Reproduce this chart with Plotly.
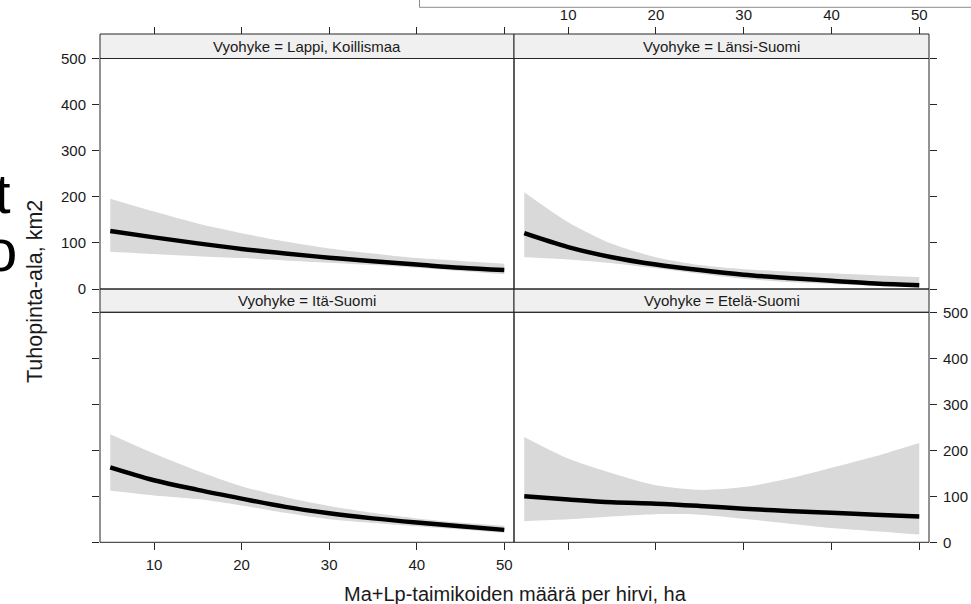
import plotly.graph_objects as go

# ---------------- data ----------------
x_vals = [5, 10, 15, 20, 25, 30, 35, 40, 45, 50]

panels = ["Lappi, Koillismaa", "Länsi-Suomi", "Itä-Suomi", "Etelä-Suomi"]

lappi_fit = [126, 112, 99, 87, 77, 68, 60, 53, 46, 41]
lappi_upper = [196, 168, 142, 121, 103, 88, 77, 67, 61, 55]
lappi_lower = [81, 76, 71, 67, 62, 57, 52, 46, 39, 32]

lansi_fit = [121, 91, 69, 53, 41, 31, 24, 18, 12, 8]
lansi_upper = [210, 145, 98, 69, 52, 43, 38, 34, 30, 26]
lansi_lower = [69, 64, 56, 45, 33, 22, 15, 11, 7, 4]

ita_fit = [163, 135, 114, 95, 77, 63, 52, 43, 35, 27]
ita_upper = [235, 193, 155, 122, 98, 79, 64, 52, 43, 36]
ita_lower = [112, 102, 94, 80, 64, 50, 42, 35, 28, 21]

etela_fit = [100, 93, 87, 84, 79, 73, 68, 64, 60, 56]
etela_upper = [229, 182, 150, 124, 114, 120, 138, 162, 187, 216]
etela_lower = [46, 50, 56, 61, 60, 51, 41, 31, 24, 17]

x_ticks = [10, 20, 30, 40, 50]
y_ticks = [0, 100, 200, 300, 400, 500]

x_title = "Ma+Lp-taimikoiden määrä per hirvi, ha"
y_title = "Tuhopinta-ala, km2"
strip_prefix = "Vyohyke = "

# ---------------- layout geometry (pixels) ----------------
W, H = 971, 604
XL0, XMID, XR1 = 100, 514, 929
TOP_STRIP0, TOP_PLOT0, TOP_PLOT1 = 34, 58.5, 289
BOT_PLOT0, BOT_PLOT1 = 312.3, 542.3

def px(v):
    return v / W

def py(v):
    return 1 - v / H

FONT = "Liberation Sans, Arial, sans-serif"
FRAME = "#262626"
BAND = "#D9D9D9"
STRIP_BG = "#F0F0F0"
TXT = "#1a1a1a"

fig = go.Figure()

series = [
    (lappi_fit, lappi_upper, lappi_lower),
    (lansi_fit, lansi_upper, lansi_lower),
    (ita_fit, ita_upper, ita_lower),
    (etela_fit, etela_upper, etela_lower),
]

for i, (fit, up, lo) in enumerate(series):
    xa = "x" if i == 0 else f"x{i+1}"
    ya = "y" if i == 0 else f"y{i+1}"
    fig.add_trace(go.Scatter(x=x_vals, y=lo, mode="lines", line=dict(width=0, shape="spline", smoothing=0.8),
                             xaxis=xa, yaxis=ya, showlegend=False, hoverinfo="skip"))
    fig.add_trace(go.Scatter(x=x_vals, y=up, mode="lines", fill="tonexty", fillcolor=BAND,
                             line=dict(width=0, shape="spline", smoothing=0.8),
                             xaxis=xa, yaxis=ya, showlegend=False, hoverinfo="skip"))
    fig.add_trace(go.Scatter(x=x_vals, y=fit, mode="lines",
                             line=dict(color="black", width=4.5, shape="spline", smoothing=1.0),
                             xaxis=xa, yaxis=ya, showlegend=False))

# empty traces so that the top tick axes are drawn
fig.add_trace(go.Scatter(x=[None], y=[None], xaxis="x5", yaxis="y", showlegend=False, hoverinfo="skip"))
fig.add_trace(go.Scatter(x=[None], y=[None], xaxis="x6", yaxis="y2", showlegend=False, hoverinfo="skip"))

XRANGE = [3.83, 51.11]
YRANGE = [0, 500]
dom_L = [px(XL0), px(XMID)]
dom_R = [px(XMID), px(XR1)]
dom_T = [py(TOP_PLOT1), py(TOP_PLOT0)]
dom_B = [py(BOT_PLOT1), py(BOT_PLOT0)]

tickfont = dict(family=FONT, size=15, color=TXT)

def xax(domain, anchor, ticks, labels, **kw):
    d = dict(domain=domain, anchor=anchor, range=XRANGE, tickvals=x_ticks,
             ticks="outside" if ticks else "", ticklen=7, tickcolor=FRAME, tickwidth=1,
             showticklabels=labels, tickfont=tickfont, showgrid=False, zeroline=False,
             showline=False, fixedrange=True, automargin=False)
    d.update(kw)
    return d

def yax(domain, anchor, side, labels):
    return dict(domain=domain, anchor=anchor, side=side, range=YRANGE, tickvals=y_ticks,
                ticks="outside", ticklen=7, tickcolor=FRAME, tickwidth=1,
                showticklabels=labels, tickfont=tickfont, showgrid=False, zeroline=False,
                showline=False, fixedrange=True, ticklabelstandoff=3, automargin=False)

fig.update_layout(
    width=W, height=H,
    margin=dict(l=0, r=0, t=0, b=0, pad=0, autoexpand=False),
    paper_bgcolor="white", plot_bgcolor="white",
    font=dict(family=FONT, color=TXT),
    xaxis=xax(dom_L, "y", False, False),
    yaxis=yax(dom_T, "x", "left", True),
    xaxis2=xax(dom_R, "y2", False, False),
    yaxis2=yax(dom_T, "x2", "right", False),
    xaxis3=xax(dom_L, "y3", True, True, ticklabelstandoff=2),
    yaxis3=yax(dom_B, "x3", "left", False),
    xaxis4=xax(dom_R, "y4", True, False),
    yaxis4=yax(dom_B, "x4", "right", True),
    xaxis5=xax(dom_L, "free", True, False, overlaying="x", side="top", position=py(TOP_STRIP0)),
    xaxis6=xax(dom_R, "free", True, True, overlaying="x2", side="top", position=py(TOP_STRIP0),
               ticklabelstandoff=1),
)

shapes = []
for (x0, x1) in [(XL0, XMID), (XMID, XR1)]:
    shapes.append(dict(type="rect", xref="paper", yref="paper", x0=px(x0), x1=px(x1),
                       y0=py(TOP_PLOT0), y1=py(TOP_STRIP0), fillcolor=STRIP_BG,
                       line=dict(color=FRAME, width=1), layer="below"))
    shapes.append(dict(type="rect", xref="paper", yref="paper", x0=px(x0), x1=px(x1),
                       y0=py(BOT_PLOT0), y1=py(TOP_PLOT1), fillcolor=STRIP_BG,
                       line=dict(color=FRAME, width=1), layer="below"))
    shapes.append(dict(type="rect", xref="paper", yref="paper", x0=px(x0), x1=px(x1),
                       y0=py(TOP_PLOT1), y1=py(TOP_PLOT0), line=dict(color=FRAME, width=1),
                       layer="above"))
    shapes.append(dict(type="rect", xref="paper", yref="paper", x0=px(x0), x1=px(x1),
                       y0=py(BOT_PLOT1), y1=py(BOT_PLOT0), line=dict(color=FRAME, width=1),
                       layer="above"))
# box overlapping from the slide (top right)
shapes.append(dict(type="rect", xref="paper", yref="paper", x0=px(419.5), x1=px(975),
                   y0=py(7.3), y1=py(-5), fillcolor="white", line=dict(color="#8c8c8c", width=1),
                   layer="above"))

annotations = []
strip_pos = [(XL0, XMID, TOP_STRIP0, TOP_PLOT0), (XMID, XR1, TOP_STRIP0, TOP_PLOT0),
             (XL0, XMID, TOP_PLOT1, BOT_PLOT0), (XMID, XR1, TOP_PLOT1, BOT_PLOT0)]
for name, (x0, x1, y0, y1) in zip(panels, strip_pos):
    annotations.append(dict(text=strip_prefix + name, xref="paper", yref="paper",
                            x=px((x0 + x1) / 2), y=py((y0 + y1) / 2), showarrow=False,
                            xanchor="center", yanchor="middle",
                            font=dict(family=FONT, size=15, color=TXT)))
annotations.append(dict(text=x_title, xref="paper", yref="paper", x=px(515), y=py(594),
                        showarrow=False, xanchor="center", yanchor="middle",
                        font=dict(family=FONT, size=20, color=TXT)))
annotations.append(dict(text=y_title, xref="paper", yref="paper", x=px(35), y=py(292),
                        showarrow=False, xanchor="center", yanchor="middle", textangle=-90,
                        font=dict(family=FONT, size=21.5, color=TXT)))
annotations.append(dict(text="t", xref="paper", yref="paper", x=px(13), y=py(193),
                        showarrow=False, xanchor="right", yanchor="middle",
                        font=dict(family=FONT, size=56, color="black")))
annotations.append(dict(text="o", xref="paper", yref="paper", x=px(19), y=py(250),
                        showarrow=False, xanchor="right", yanchor="middle",
                        font=dict(family=FONT, size=60, color="black")))

fig.update_layout(shapes=shapes, annotations=annotations)

fig.write_html("out.html", config={"displayModeBar": False},
               post_script="document.body.style.margin='0px';")
